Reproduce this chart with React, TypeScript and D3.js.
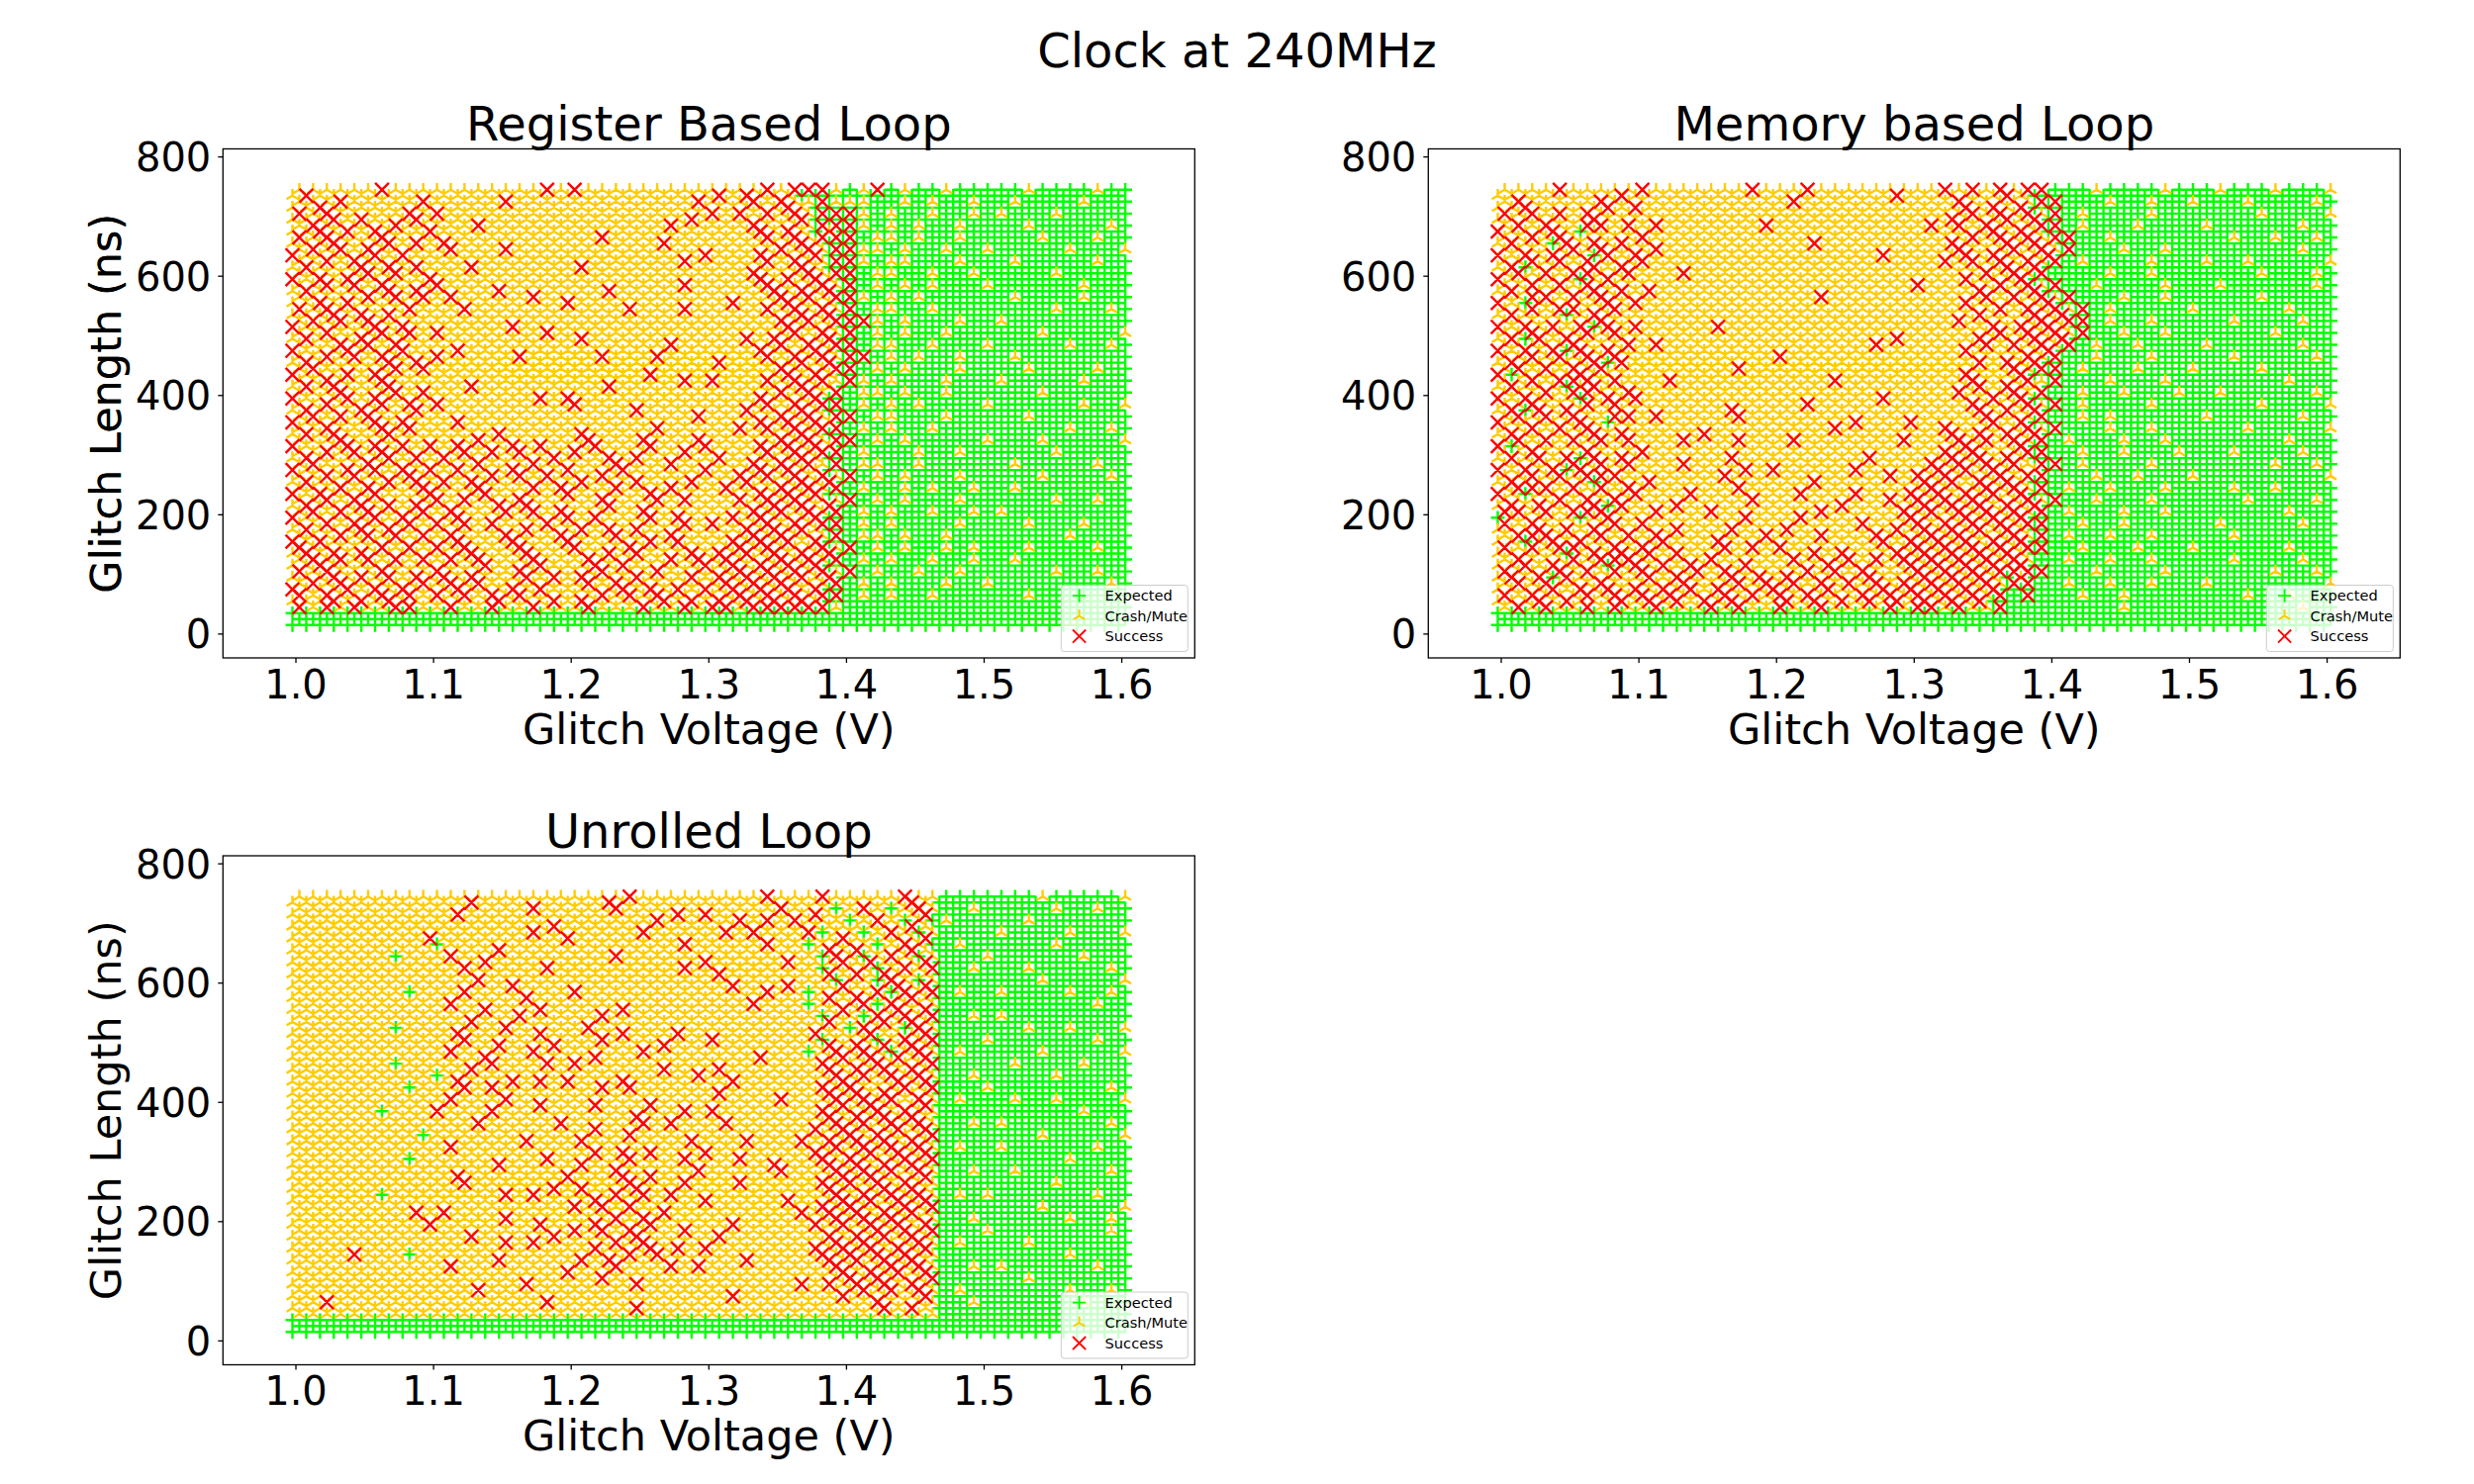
import React from 'react';
import * as d3 from 'd3';

const voltages = [
  1.00, 1.01, 1.02, 1.03, 1.04, 1.05, 1.06, 1.07, 1.08, 1.09,
  1.10, 1.11, 1.12, 1.13, 1.14, 1.15, 1.16, 1.17, 1.18, 1.19,
  1.20, 1.21, 1.22, 1.23, 1.24, 1.25, 1.26, 1.27, 1.28, 1.29,
  1.30, 1.31, 1.32, 1.33, 1.34, 1.35, 1.36, 1.37, 1.38, 1.39,
  1.40, 1.41, 1.42, 1.43, 1.44, 1.45, 1.46, 1.47, 1.48, 1.49,
  1.50, 1.51, 1.52, 1.53, 1.54, 1.55, 1.56, 1.57, 1.58, 1.59, 1.60,
];
const lengths = [
  740, 720, 700, 680, 660, 640, 620, 600, 580, 560, 540, 520, 500,
  480, 460, 440, 420, 400, 380, 360, 340, 320, 300, 280, 260, 240,
  220, 200, 180, 160, 140, 120, 100, 80, 60, 40, 20,
];
// two samples per grid cell
const voltageOffsets = [-0.0025, 0.0025];
const lengthOffsets = [-5, 5];

const xTicks = [1.0, 1.1, 1.2, 1.3, 1.4, 1.5, 1.6];
const yTicks = [0, 200, 400, 600, 800];
const outcomes = ['Expected', 'Crash/Mute', 'Success'];
const outcomeColors = ['#00ff00', '#ffcc00', '#ff0000'];

// cell code -> outcomes of its two samples (0 Expected, 1 Crash/Mute, 2 Success)
const cellCodes: Record<string, number[]> = {
  g: [0, 0], y: [1, 1], R: [2, 2], r: [1, 2], a: [0, 1], b: [1, 0], c: [0, 2],
};

const registerRows = [
  'yryyyyryyy yyyyyyyyry ryyyyyyyyy yryrryrcca gacgaggagg gggaggggagg',
  'yyrryyyyyr yyyyyryyyy yyyyyyyyyr yyyryrryca aaggagagga ggaggggaggg',
  'ryrryryyrr ryyyyyyyyy yyyyyyyyyr ryryryrrcc cagaggagga gagggaggggg',
  'yrryryrryy ryyryyyyyy yyyyyyyryy yyyrryrycr cagagaggag gggagggggag',
  'ryrryyrryr yryyyyyyyy yyryyyyryy yyyyryrrrc cgaagaggag ggggagggagg',
  'rryryrryry yryyyryyyy yyyyyyyyyy ryyyrryrrc caagaggagg agggggaggga',
  'yrryrryryr yyyryyyyyy yryyyyyyry yyyyryrryc cagaagggag ggagggggagg',
  'ryryrryryy ryyyyyyyyy yyyyyyyyyy yyyrryrrrr cgaaggagga gggggaggggg',
  'yrryryrryr ryyyyryyyy yyyryyyyry yyyyrryrrr cgagagaggg aggggggaggg',
  'yyryrryryr yryyyyyryy ryyyyyyyyy yyryyrrryr cagagagggg ggaggggaggg',
  'ryrryryrry yyryyyyyyy yyyyryyyry yyyyryrrrr cgaaggaggg gggggagggag',
  'rryryrryry yyyyyyryyy yyyyyyyyyy yyyyyrrryr ccagagggag gaggggggggg',
  'yrryyrryry ryyyyyyyry yryyyyyyyy yyyryrryrr cgagaggagg ggggaggggga',
  'ryyrrryrry yyryyyyyyy yyyyyyyryy yyyyrryrrr cgaaggaggg agggggaggag',
  'yrryryrryr ryyyyyryyy yyryyyryyy yryyryrrrr ccgagaggag ggagggggggg',
  'rryyryrryr yyyyyyyyyy yyyyyyryyy yyyyyrryrr cgagagggag gggaggggagg',
  'yrrryyrryy yyyryyyyyy yyyryyyyry ryyyryrrry cagagggagg gagggggaggg',
  'ryyrryrryr yyyyyyyyry ryyyyyyyyy yyyyrryrrc gaagaggagg ggggagggggg',
  'yrryyrryrr ryyyyyyyyy ryyyyryyyy yyyrryrrrc gagagagggg aggggggagga',
  'rryryrryry yyryyyyyyy yyyyyyyyyr yyyyrrrrrr cgaagggagg gggaggggggg',
  'yrrryyrrry yyyyyryyyy yryyyyryyy yyryryrrrc gagaggaggg ggggggaggag',
  'ryyrryryry ryrryyryry yrryyrryyr ryyyrrrrrr cgagaggggg agggaggggga',
  'yrryryrryr yrryryryyr ryyryryyry yryyryrrrc gagggaggag gggggaggggg',
  'rryyrrryry ryrryyrryy ryyrryyryy ryyrrrrryc gaaggagggg ggagggggagg',
  'yrryryyrrr yryrryryry yrryyryyyr yyrrryrrrr cgagagggag ggggaggggag',
  'ryrryrryyr ryyrryyryr ryyryyrryy yryyrrrrrc gaggagagga ggagggggggg',
  'yrryrryryr ryryyrrryy yyrryyryry yyryrrrryr cgagagggag gggggaggagg',
  'rryryrryrr yrryyryryr ryryyrryry yyrrrryrrc gagaggagga gaggggggggg',
  'yrryrryrry ryryryyrry yryryryyry ryyrrrrrrc gagaggggag gggagggaggg',
  'ryrryryryr yrryyrryyr ryyryyrrry yyrrrrryrc gaagaggagg ggggggagggg',
  'rryryrryry ryrryyrryy ryyrrryyyr yrrrrryrrr cgagaggaga gggaggggagg',
  'yrrryryryr yryrryyrry yrryryyryr rrryrrrrrc gagaggagga ggagggggggg',
  'ryrryrrryr rryryyrryr yrryyrryyr yrrrrrrrrr cgaggaggag gggggaggagg',
  'rryrryryrr yrrryyryry yryrryryry rrrrrrryrc gagagggagg aggggggggag',
  'ryrryrrrry ryryrrryyr yrryryrryr yrrrrrrrrc gagaggaggg gggaggggggg',
  'cacacaacca acaacaacaa acaaacaaca ccacccccca gggggggggg ggggggggggg',
  'gggggggggg gggggggggg gggggggggg gggggggggg gggggggggg ggggggggggg',
];

const memoryRows = [
  'yyyyryyyyr ryyyyyyyry yyryyyyyyr yyryryrrrc gggaggggag ggagggaggga',
  'yrryyyyrry ryyyyyyyyy yryyyyyyyy yyyrryryrc cgggaggagg agggaggggag',
  'ryryryrryy yyyyyyyyyy yyyyyyyyyy yyyrryrrrr cgaggggagg gggggagggga',
  'rryrrycryr yryyyyyyyr yyyyyyyyyy yryryrryrr cgagggaggg gaggggggagg',
  'yrrycryryr ryyyyyyyyy yyyryyyyyy yyyrryrrrr rcggaggggg gggaggaggag',
  'ryryrrycry rryyyyyyyy yyyyyyyyry yyyrryrryr rcgggaggag ggggggggagg',
  'yrcyryrryr ryyyyyyyyy yyyyyyyyyy yyryryrrrr cgaggggagg gaggaggggga',
  'rryryrcyrr yyyryyyyyy yyyyyyyyyy yyyyrryrrc ggggaggagg gggggagggag',
  'yrryryrryr yryyyyyyyy yyyyyyyyyy ryyyyrryrr cggaggggag ggaggggggag',
  'rycryryrry ryyyyyyyyy yyyryyyyyy yyyyrryryr rcgggaggag gggggaggggg',
  'yrryrcyrry yyyyyyyyyy yyyyyyyyyy yyyyyrryrr rrcgaggggg aggggggaggg',
  'ryryryrcry ryyyyyryyy yyyyyyyyyy yyyryyryrr rrcgaggagg gggaggggagg',
  'yrcryrryry yyyyyyyyyy yyyyyyyyyr yyyyyrryrr rrcggaggag ggggggagggg',
  'ryryrcryrr yryyyyyyyy yyyyyyyryy yyyyrryryr rcgaggaggg gaggggggagg',
  'yrryryrrcr yyyyyyyyyy ryyyyyyyyy yyyyyryrrr cggagggagg gggagggggag',
  'rcyryrrryy yyyyyyyryy yyyyyyyyyy yyyyryyrrc cgagggaggg aggggaggggg',
  'yrryrcrrry yyryyyyyyy yyyyryyyyy yyyyrryrry cgggagggag gggggggaggg',
  'ryrryrcyrr ryyyyyyyyy yyyyyyyyry yyyryyrrrc ggaggaggga ggaggggggag',
  'yrcryrryry yyyyyyyryy yyryyyyyyy yyyyrryrrr cgaggggagg gggggagggga',
  'rryryrrycr yryyyyyryy yyyyyyryyy ryyyyrryrc ggagaggggg gaggggggagg',
  'yrryryrryr yyyyyryyyy yyyyryyyyy yyrryryrrr cgggaggagg ggggaggggga',
  'rcyryryryr yyyryyyryy yryyyyyyyr yyyrrryrrc gagggaggag gggggggaggg',
  'yrrryrcryr ryyyyyyryy yyyyyyyryy yyrrrryrrc ggaggaggga gggaggggagg',
  'ryryrcrryr yyyryyyyry ryyyyyryyy yrrrrrrryr cgaggggagg ggggggaggag',
  'yrryryrcry yryyyyryyy yyyryyyyry rrrryrrrrc gggaggaggg aggggggggga',
  'rrcryryryr ryyyryyryy yyryyyryyy rrryrrrrrc gaggagggag gggaggagggg',
  'yryrryrrcr yyyryyyyry yyyyyryyry rrrrrryrrr cggagggagg ggggaggggag',
  'cryryrcrry yryyyryyry yyrryyyyyr rryrrrrrrc gagggaggag gggggggaggg',
  'ryrryryrry ryyryyyryy yryyyyryyr rrrrrrrrrc ggaggagggg ggagggggagg',
  'yrcrryrryr yrryyyryyr yyyryyyrry rrrrryrrrc gaggaggagg gggaggggggg',
  'ryryrcyrrr rryryyryry ryyryryyyr rrrrrrrrrc ggagggaggg aggggggaggg',
  'yrryrryrcr ryryrryyry yryyrryryr rrrrrrrrrg gaggaggagg gggaggggagg',
  'rryrcrryry rryrryrryr yrryryrryy rrrrrrrcrc gggaggggag ggggggaggag',
  'yryrryrrry ryrrryrryr rryrrryrrr rrrrrrrccg gaggaggagg gagggggggga',
  'ryrryrryrr rrrryrrrry rrrryrrrrr rrrrrrcgcg ggaggagggg ggggaggaggg',
  'acacaacaca acaaacacaa caacaaaaca ccacaacggg gggggagggg ggggggggagg',
  'gggggggggg gggggggggg gggggggggg gggggggggg gggggggggg ggggggggggg',
];

const unrolledRows = [
  'yyyyyyyyyy yyyryyyyyy yyyrryyyyy yyyyryyyry yyyyrryggg ggggaggggga',
  'yyyyyyyyyy yyryyyyryy yyyryyyyry ryyyyryyrb yrybyrrgga gggggaggagg',
  'yyyyyyyyyy yyyyyyyyyr yyyyyyryyy yyryryryyy byrybrbagg gggaggggggg',
  'yyyyyyyyyy ryyyyyyryy ryyyyryyyy yryryyyrby rbyrybrggg gaggggaggga',
  'yyyyyyyyyy byyyyryyyy yyyyyyyyry yyyyryybyr yrbyrrbgag gggggaggggg',
  'yyyyyyybyy yryyryyyyy yyyryyyyyy ryyyyyrybr rbrrybrggg aggggggaggg',
  'yyyyyyyyyy yyryyyyyry yyyyyyyyry yryyyyyybr yrbrryrgga gggagggggag',
  'yyyyyyyyyy yyyryyryyy yyyyyyyyyy yyryyyryyb rybrrbrggg ggggaggggga',
  'yyyyyyyyby yyryyyyryy ryyyyyyyyy yyyyryybyr yrrbrrrgag gaggggaggag',
  'yyyyyyyyyy yryyryyyry yyyyryyyyy yyyryyybyy rrbrryrggg ggggggggagg',
  'yyyyyyyyyy yyyryyryyy yyryyyyyyy yyyyyyyybr ybrrrrrgga gaggggggggg',
  'yyyyyyybyy yyryyryyry yryyryyyry yyyyyyyyry brrybrrggg gggaggaggga',
  'yyyyyyyyyy yyryyryyyr yyryyyyryy ryyyyyyybr yrbrrrrggg agggggggagg',
  'yyyyyyyyyy yryyryyryy yyryyryyyy yyyyryybyr rrrbrrrgag ggggaggggga',
  'yyyyyyybyy yyyrryyyry ryyyyyyryy yryyyyyyrr yrrryrrggg ggaggggaggg',
  'yyyyyyyyyy byryyyryry ryyyryyyyr yyryyyyyyr rryrrrrgga gggggaggggg',
  'yyyyyyyyby yyryryyyyy yyryryyyyy yryyyyyyrr rryrryrggg aggggggggag',
  'yyyyyyyyyy yryyyryyry yyryyyryyy yyyyyryyyr rrrryrrgag ggaggagggga',
  'yyyyyybyyy ryyyryyyyy yyyyyryyry ryyyyyyyrr yrrrrryggg gggggggaggg',
  'yyyyyyyyyy yyyryyyyyr yyryyryryy yryyyyyyrr rryrrrrgga gagggggggag',
  'yyyyyyyyyb yyyyyyyryy yryyryyyyr yyyryyyryr rrrryrrggg ggggaggggga',
  'yyyyyyyyyy yryyyyyyyy yyryryryyy ryyyyyyyrr yrrrrrrgag gaggggggagg',
  'yyyyyyyyby yyyyyryyry yryyryyyry yyryyryyrr rryrrrrggg ggggggagggg',
  'yyyyyyyyyy yyryyyyyyy ryyrryryyr yyyyyryyyr rrrryrrgga ggaggggggag',
  'yyyyyyyyyy yyryyyyyyr yryyrryyry yyryyyyyrr ryrrrryggg gggggaggggg',
  'yyyyyybyyy yyyyyryryy yyrryryryy ryyyyyryyr rrrrrrrgag agggggggagg',
  'yyyyyyyyyr yryyyyyyyy ryryryyryy yyyyyyyrrr rryrrrrggg ggggaggggga',
  'yyyyyyyyyy ryyyyryyry yyrryrryyy yyryyyyyrr rrrrryrgga ggggggaggag',
  'yyyyyyyyyy yyyryyyyyr ryryrryyry yryyyyyyyr yrrrrrrggg aggggggggag',
  'yyyyyyyyyy yyyyyryryy yyrryrryry ryyyyyyyrr rrryrrrgag gggaggggggg',
  'yyyyryyyby yyyyyryyyy yryrryryyy yyyryyyyrr rrrrrryggg ggggggagggg',
  'yyyyyyyyyy yryyyyyyyy ryyryyyryr yyyyyyyyyr ryrrrrrgga gaggggggagg',
  'yyyyyyyyyy yyyyyyyryy yyryyryyyy yyyyyyyryr rrrryrrggg gggaggggggg',
  'yyyyyyyyyy yyyryyyyyy yyyyyyyyyy yyryyyyyyy rryryrrgag ggggggaggag',
  'yyryyyyyyy yyyyyyyyry yyyyyryyyy yyyyyyyyyy yyrryrygga gggggggaggg',
  'aaaaaaaaaa aaaaaaaaaa aaaaaaaaaa aaaaaaaaaa aaaaaaaggg ggggggggggg',
  'gggggggggg gggggggggg gggggggggg gggggggggg gggggggggg ggggggggggg',
];

const PW = 982;
const PH = 514.5;
const MR = 6.9;
const SW = 2.4;
const FONT = 'DejaVu Sans, sans-serif';

function markerPath(kind: number, cx: number, cy: number, r: number) {
  const f = (v: number) => v.toFixed(1);
  if (kind === 0) {
    return `M${f(cx - r)},${f(cy)}H${f(cx + r)}M${f(cx)},${f(cy - r)}V${f(cy + r)}`;
  }
  if (kind === 1) {
    const dx = r * 0.866;
    const dy = r * 0.5;
    return `M${f(cx)},${f(cy)}V${f(cy - r)}M${f(cx)},${f(cy)}L${f(cx - dx)},${f(cy + dy)}M${f(cx)},${f(cy)}L${f(cx + dx)},${f(cy + dy)}`;
  }
  return `M${f(cx - r)},${f(cy - r)}L${f(cx + r)},${f(cy + r)}M${f(cx - r)},${f(cy + r)}L${f(cx + r)},${f(cy - r)}`;
}

interface PanelProps {
  title: string;
  rows: string[];
  left: number;
  top: number;
}

const Panel: React.FC<PanelProps> = ({ title, rows, left, top }) => {
  const x = d3.scaleLinear().domain([0.947, 1.653]).range([0, PW]);
  const y = d3.scaleLinear().domain([-40, 813.5]).range([PH, 0]);

  // one path per outcome, drawn in series order
  const paths = ['', '', ''];
  rows.forEach((row, i) => {
    const cells = row.replace(/ /g, '');
    for (let j = 0; j < cells.length && j < voltages.length; j++) {
      const code = cellCodes[cells[j]];
      if (!code) continue;
      // crash/success cells: alternate which slot holds the success
      const pair = cells[j] === 'r' && (i + j) % 2 === 1 ? [code[1], code[0]] : code;
      pair.forEach((kind, k) => {
        const cx = x(voltages[j] + voltageOffsets[k]);
        const cy = y(lengths[i] + lengthOffsets[k]);
        paths[kind] += markerPath(kind, cx, cy, MR);
      });
    }
  });

  const legW = 128;
  const legH = 67;
  const legX = PW - 7 - legW;
  const legY = PH - 6.5 - legH;

  return (
    <g transform={`translate(${left},${top})`}>
      {paths.map((d, k) => (
        <path key={k} d={d} fill="none" stroke={outcomeColors[k]} strokeWidth={SW} />
      ))}
      <rect x={0} y={0} width={PW} height={PH} fill="none" stroke="#000" strokeWidth={1.3} />
      {xTicks.map(t => (
        <g key={t} transform={`translate(${x(t)},${PH})`}>
          <line y2={5} stroke="#000" strokeWidth={1.3} />
          <text y={40.7} textAnchor="middle" fontSize={40}>{t.toFixed(1)}</text>
        </g>
      ))}
      {yTicks.map(t => (
        <g key={t} transform={`translate(0,${y(t)})`}>
          <line x2={-5} stroke="#000" strokeWidth={1.3} />
          <text x={-12} y={14.6} textAnchor="end" fontSize={40}>{t}</text>
        </g>
      ))}
      <text x={PW / 2} y={-8.2} textAnchor="middle" fontSize={48}>{title}</text>
      <text x={PW / 2} y={PH + 86.7} textAnchor="middle" fontSize={43}>Glitch Voltage (V)</text>
      <text
        transform={`translate(${122 - left},${PH / 2}) rotate(-90)`}
        textAnchor="middle"
        fontSize={43}
      >
        Glitch Length (ns)
      </text>
      <g transform={`translate(${legX},${legY})`}>
        <rect width={legW} height={legH} rx={3} fill="#fff" fillOpacity={0.8} stroke="#cccccc" strokeWidth={1} />
        {outcomes.map((name, k) => {
          const base = 15.6 + k * 20.5;
          return (
            <g key={name}>
              <path
                d={markerPath(k, 18.3, base - 5, 6.6)}
                fill="none"
                stroke={outcomeColors[k]}
                strokeWidth={1.9}
              />
              <text x={44.3} y={base} fontSize={14.6}>{name}</text>
            </g>
          );
        })}
      </g>
    </g>
  );
};

const App: React.FC = () => (
  <div style={{ position: 'absolute', left: 0, top: 0 }}>
    <svg width={2500} height={1500} style={{ display: 'block', background: '#fff' }} fontFamily={FONT}>
      <text x={1250} y={68.3} textAnchor="middle" fontSize={48}>Clock at 240MHz</text>
      <Panel title="Register Based Loop" rows={registerRows} left={225.3} top={150.5} />
      <Panel title="Memory based Loop" rows={memoryRows} left={1443.3} top={150.5} />
      <Panel title="Unrolled Loop" rows={unrolledRows} left={225.3} top={865} />
    </svg>
  </div>
);

export default App;
